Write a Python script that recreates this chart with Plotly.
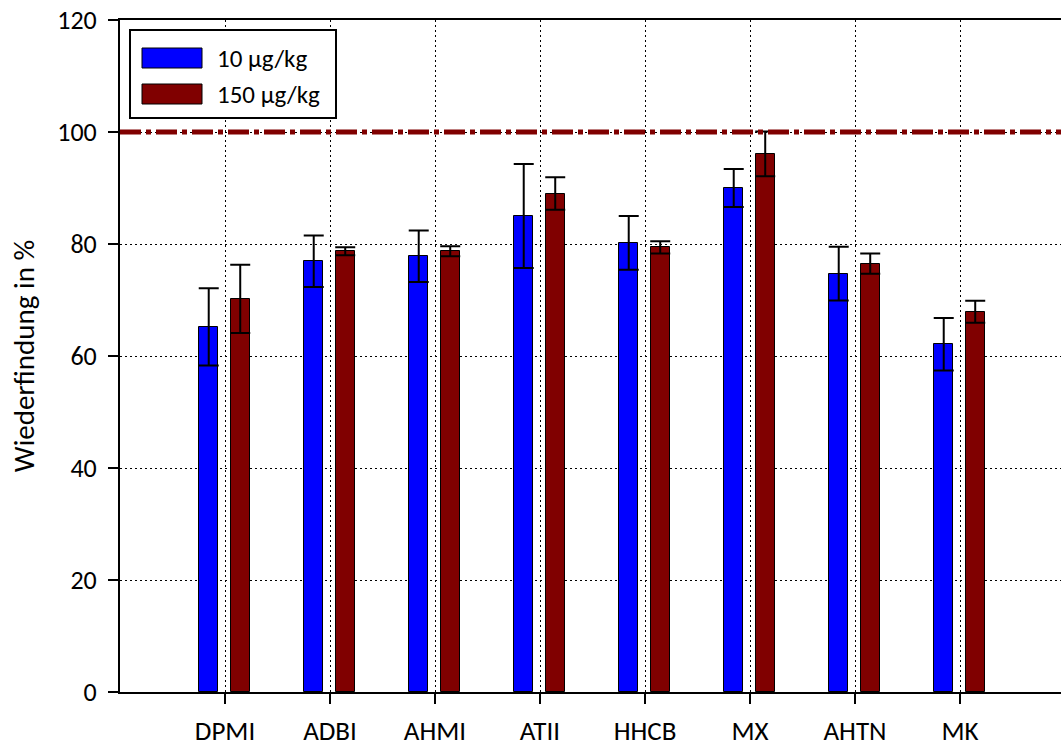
import plotly.graph_objects as go

categories = ["DPMI", "ADBI", "AHMI", "ATII", "HHCB", "MX", "AHTN", "MK"]
low_vals = [65.2, 76.9, 77.8, 85.0, 80.2, 90.0, 74.7, 62.1]
low_err = [6.9, 4.6, 4.6, 9.3, 4.8, 3.4, 4.8, 4.7]
high_vals = [70.2, 78.7, 78.7, 89.0, 79.4, 96.1, 76.5, 67.9]
high_err = [6.1, 0.7, 0.9, 2.9, 1.1, 4.0, 1.8, 1.95]
series_names = ["10 µg/kg", "150 µg/kg"]
target = 100
y_ticks = [0, 20, 40, 60, 80, 100, 120]

BLUE = "#0000FF"
RED = "#800000"
FONT = "Calibri, Carlito, Lato, sans-serif"

W, H = 1061, 751
ML, MR, MT, MB = 120, 0, 20, 59
PW, PH = W - ML - MR, H - MT - MB


def px(xp):
    return (xp - ML) / PW


def py(yp):
    return (H - MB - yp) / PH


fig = go.Figure()
err_style = dict(type="data", thickness=2, width=10, color="black")
fig.add_trace(go.Bar(
    x=categories, y=low_vals, name=series_names[0],
    error_y=dict(array=low_err, **err_style),
    marker=dict(color=BLUE, line=dict(color="black", width=1)),
    width=0.18, offset=-0.245, showlegend=False,
))
fig.add_trace(go.Bar(
    x=categories, y=high_vals, name=series_names[1],
    error_y=dict(array=high_err, **err_style),
    marker=dict(color=RED, line=dict(color="black", width=1)),
    width=0.18, offset=0.055, showlegend=False,
))

# reference line at 100 %
fig.add_shape(type="line", xref="paper", x0=0, x1=1, yref="y", y0=target, y1=target,
              line=dict(color=RED, width=5, dash="21px,5px,5px,5px"), layer="above")

# manual legend
fig.add_shape(type="rect", xref="paper", yref="paper", x0=px(130), x1=px(336), y0=py(118), y1=py(30),
              line=dict(color="black", width=2), fillcolor="white", layer="above")
for i, (name, col) in enumerate(zip(series_names, [BLUE, RED])):
    yc = 58 + i * 36
    fig.add_shape(type="rect", xref="paper", yref="paper", x0=px(142), x1=px(202),
                  y0=py(yc + 10), y1=py(yc - 10), fillcolor=col,
                  line=dict(color="black", width=1), layer="above")
    fig.add_annotation(xref="paper", yref="paper", x=px(215), y=py(yc), text=name,
                       showarrow=False, xanchor="left", yanchor="middle",
                       font=dict(family=FONT, size=25, color="black"))

fig.update_layout(
    width=W, height=H,
    margin=dict(l=ML, r=MR, t=MT, b=MB, pad=0, autoexpand=False),
    plot_bgcolor="white", paper_bgcolor="white",
    font=dict(family=FONT, size=24, color="black"),
    barmode="overlay",
    bargap=0,
)
fig.update_xaxes(
    type="category", range=[-1.0, -1.0 + PW / 105.0], automargin=False,
    showline=True, linecolor="black", linewidth=2, mirror=True,
    ticks="outside", ticklen=10, tickwidth=2, tickcolor="black",
    ticklabelstandoff=4,
    showgrid=True, gridcolor="black", gridwidth=1, griddash="2px,3px",
    tickfont=dict(family=FONT, size=27),
)
fig.update_yaxes(
    range=[0, 120], tickvals=y_ticks, automargin=False,
    showline=True, linecolor="black", linewidth=2,
    ticks="outside", ticklen=10, tickwidth=2, tickcolor="black",
    ticklabelstandoff=6,
    showgrid=True, gridcolor="black", gridwidth=1, griddash="2px,3px",
    zeroline=False,
    tickfont=dict(family=FONT, size=26),
    title=dict(text="Wiederfindung in %", font=dict(family=FONT, size=29), standoff=14),
)

fig.write_html("out.html")
